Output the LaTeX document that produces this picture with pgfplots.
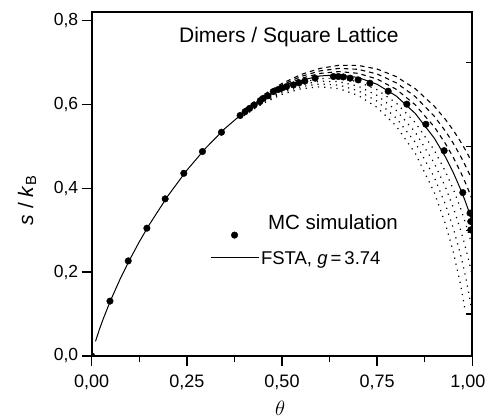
\documentclass[border=0pt]{standalone}
\usepackage{fontspec}
\setmainfont{Liberation Sans}
\usepackage{pgfplots}
\pgfplotsset{compat=1.18}
\pgfplotsset{
  mcimage/.style={legend image code/.code={\draw[##1] plot coordinates {(24pt,-5.7pt)};}},
  lineimage/.style={legend image code/.code={\draw[##1] (0pt,7.3pt) -- (48pt,7.3pt);}},
}

\begin{document}
\begin{tikzpicture}
\begin{axis}[
    width=380.6pt, height=344pt, scale only axis,
    xmin=0, xmax=1, ymin=0, ymax=0.821,
    xtick={0,0.25,0.5,0.75,1},
    xticklabels={{0,00},{0,25},{0,50},{0,75},{\hspace*{-9pt}1,00}},
    minor xtick={0.125,0.375,0.625,0.875},
    ytick={0,0.2,0.4,0.6,0.8},
    yticklabels={{0,0},{0,2},{0,4},{0,6},{0,8}},
    xtick pos=left, ytick pos=left,
    tick align=outside,
    major tick length=10pt, minor tick length=6pt,
    every tick/.style={black, line width=1.4pt},
    axis line style={line width=1.8pt},
    clip marker paths=true,
    yticklabel style={font=\fontsize{17.5}{20}\selectfont},
    xticklabel style={font=\fontsize{18}{21}\selectfont, yshift=-5pt},
    xlabel={$\theta$},
    xlabel style={font=\fontsize{20}{24}\selectfont, at={(axis description cs:0.495,-0.151)}, anchor=center},
    ylabel={\textit{s} / \textit{k}\textsubscript{B}},
    ylabel style={font=\fontsize{21}{25}\selectfont, at={(axis description cs:-0.17,0.453)}, anchor=center},
    legend style={draw=none, fill=none, inner sep=0pt, outer sep=0pt,
        at={(axis cs:0.311,0.340)}, anchor=north west,
        cells={anchor=base west}, row sep=12pt, column sep=1pt,
        nodes={inner sep=1pt}},
]
\coordinate (bl) at (rel axis cs:0,0);

% FSTA, g = 3.53, 3.60, 3.67 (dashed)
\addplot[forget plot, black, line width=1.1pt, dash pattern=on 4.5pt off 4pt] coordinates {
(0.40,0.5882)(0.45,0.6225)(0.50,0.6504)(0.55,0.6718)(0.60,0.6864)(0.65,0.6938)
(0.70,0.6935)(0.75,0.6849)(0.80,0.6668)(0.85,0.6380)(0.90,0.5963)(0.93,0.5639)
(0.95,0.5388)(0.97,0.5104)(0.98,0.4948)(0.99,0.4782)(1.00,0.4606)
};
\addplot[forget plot, black, line width=1.1pt, dash pattern=on 4.5pt off 4pt] coordinates {
(0.40,0.5861)(0.45,0.6198)(0.50,0.6469)(0.55,0.6672)(0.60,0.6805)(0.65,0.6864)
(0.70,0.6842)(0.75,0.6731)(0.80,0.6520)(0.85,0.6192)(0.90,0.5724)(0.93,0.5360)
(0.95,0.5077)(0.97,0.4755)(0.98,0.4578)(0.99,0.4390)(1.00,0.4188)
};
\addplot[forget plot, black, line width=1.1pt, dash pattern=on 4.5pt off 4pt] coordinates {
(0.40,0.5841)(0.45,0.6171)(0.50,0.6433)(0.55,0.6625)(0.60,0.6745)(0.65,0.6788)
(0.70,0.6746)(0.75,0.6610)(0.80,0.6366)(0.85,0.5996)(0.90,0.5470)(0.93,0.5061)
(0.95,0.4741)(0.97,0.4377)(0.98,0.4175)(0.99,0.3958)(1.00,0.3726)
};
% FSTA, g = 3.81, 3.88, 3.95, 4.02 (dotted)
\addplot[forget plot, black, line width=1.2pt, dash pattern=on 1.2pt off 5pt] coordinates {
(0.40,0.5799)(0.45,0.6115)(0.50,0.6359)(0.55,0.6529)(0.60,0.6622)(0.65,0.6630)
(0.70,0.6545)(0.75,0.6354)(0.80,0.6039)(0.85,0.5573)(0.90,0.4913)(0.93,0.4394)
(0.95,0.3982)(0.97,0.3503)(0.98,0.3232)(0.99,0.2937)(1.00,0.2613)
};
\addplot[forget plot, black, line width=1.2pt, dash pattern=on 1.2pt off 5pt] coordinates {
(0.40,0.5778)(0.45,0.6086)(0.50,0.6321)(0.55,0.6480)(0.60,0.6558)(0.65,0.6548)
(0.70,0.6440)(0.75,0.6219)(0.80,0.5864)(0.85,0.5344)(0.90,0.4603)(0.93,0.4016)
(0.95,0.3543)(0.97,0.2985)(0.98,0.2664)(0.99,0.2308)(1.00,0.1907)
};
\addplot[forget plot, black, line width=1.2pt, dash pattern=on 1.2pt off 5pt] coordinates {
(0.40,0.5757)(0.45,0.6057)(0.50,0.6283)(0.55,0.6430)(0.60,0.6493)(0.65,0.6464)
(0.70,0.6331)(0.75,0.6079)(0.80,0.5681)(0.85,0.5100)(0.90,0.4269)(0.93,0.3599)
(0.95,0.3051)(0.97,0.2387)(0.98,0.1994)(0.99,0.1543)(1.00,0.1005)
};
\addplot[forget plot, black, line width=1.2pt, dash pattern=on 1.2pt off 5pt] coordinates {
(0.40,0.5735)(0.45,0.6028)(0.50,0.6244)(0.55,0.6379)(0.60,0.6426)(0.65,0.6378)
(0.70,0.6220)(0.75,0.5933)(0.80,0.5489)(0.85,0.4841)(0.90,0.3905)(0.93,0.3134)
(0.95,0.2487)(0.97,0.1669)(0.98,0.1152)
};

% MC simulation
\addplot[only marks, mark=*, mark size=3.3pt, black, mcimage] coordinates {
(0,0)(0.048,0.131)(0.096,0.227)(0.145,0.305)(0.193,0.375)(0.242,0.436)
(0.291,0.488)(0.341,0.534)(0.390,0.574)(0.403,0.583)(0.415,0.591)(0.427,0.599)
(0.442,0.607)(0.451,0.615)(0.463,0.621)(0.477,0.631)(0.490,0.636)(0.501,0.640)
(0.512,0.643)(0.530,0.647)(0.545,0.652)(0.560,0.656)(0.587,0.663)(0.635,0.667)
(0.648,0.667)(0.661,0.666)(0.679,0.663)(0.700,0.659)(0.731,0.651)(0.779,0.632)
(0.828,0.601)(0.878,0.553)(0.926,0.490)(0.975,0.390)(0.994,0.341)(0.996,0.321)
(0.996,0.301)
};
\addlegendentry{\hspace*{7pt}\fontsize{20.5}{24}\selectfont MC simulation}

% FSTA, g = 3.74
\addplot[black, line width=1pt, lineimage] coordinates {
(0.01,0.0349)(0.02,0.0628)(0.03,0.0880)(0.05,0.1335)(0.075,0.1843)(0.10,0.2302)
(0.125,0.2724)(0.15,0.3115)(0.20,0.3819)(0.25,0.4433)(0.30,0.4967)(0.35,0.5429)
(0.40,0.5820)(0.45,0.6143)(0.50,0.6396)(0.55,0.6578)(0.60,0.6684)(0.65,0.6710)
(0.70,0.6647)(0.75,0.6484)(0.80,0.6206)(0.85,0.5790)(0.90,0.5201)(0.93,0.4741)
(0.95,0.4378)(0.97,0.3962)(0.98,0.3730)(0.99,0.3479)(1.00,0.3207)
};
\addlegendentry{\fontsize{18.5}{22}\selectfont FSTA, \textit{g}\,=\,3.74}

\node[anchor=base, font=\fontsize{21}{25}\selectfont] at (axis cs:0.518,0.749) {Dimers / Square Lattice};
\end{axis}

% mirrored ticks on the right side
\begin{axis}[
    width=380.6pt, height=344pt, scale only axis,
    xmin=0, xmax=1, ymin=0, ymax=0.821,
    axis x line=none, axis y line*=right,
    ytick={0.1,0.3,0.5,0.7}, yticklabels={},
    tick align=inside, major tick length=6pt,
    every tick/.style={black, line width=1.4pt},
    axis line style={line width=1.8pt},
]
\end{axis}

\pgfresetboundingbox
\path[use as bounding box] (bl) ++(-91.7pt,-62pt) rectangle ++(485pt,418pt);
\end{tikzpicture}
\end{document}
